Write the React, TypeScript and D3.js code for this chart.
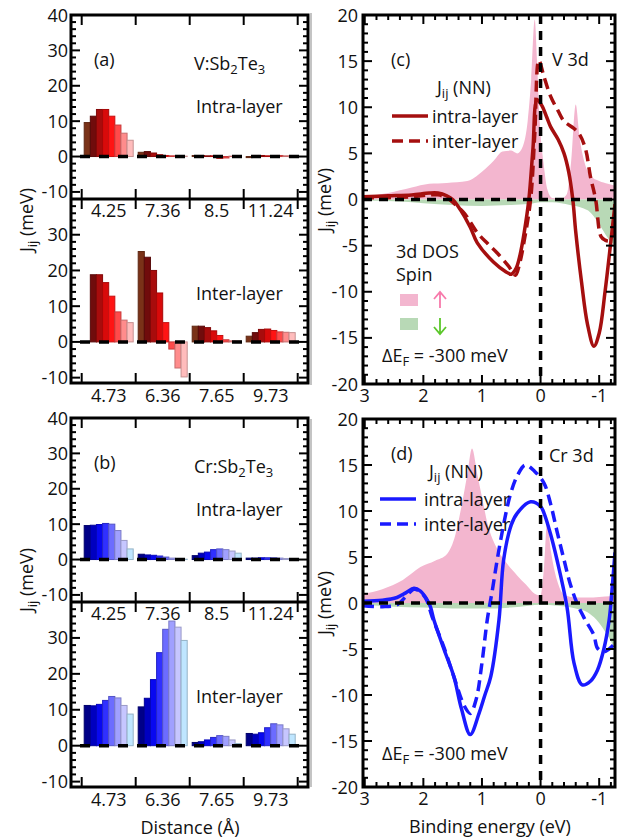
import React from 'react';
import * as d3 from 'd3';

const FONT = '"Open Sans", "DejaVu Sans", sans-serif';

// distance shells (Å)
const intraDist = ['4.25', '7.36', '8.5', '11.24'];
const interDist = ['4.73', '6.36', '7.65', '9.73'];

// J_ij (meV), 8 bars per shell
const vIntra = [
  [9.6, 11.4, 13.3, 13.3, 11.4, 8.9, 6.6, 4.6],
  [1.2, 1.4, 1.0, 0.5, 0.3, 0.2, 0.2, 0.1],
  [0.3, 0.3, 0.2, 0.2, -0.5, -0.4, 0.1, 0.1],
  [-0.3, 0.3, 0.3, 0.2, 0.2, 0.3, 0.2, -0.2],
];
const vInter = [
  [0, 18.8, 18.8, 16.6, 12.8, 8.4, 6.1, 5.4],
  [25.3, 23.7, 20.0, 13.7, 5.4, -2.0, -7.3, -9.8],
  [4.4, 4.4, 4.0, 3.1, 1.8, 0.6, 0.3, 0.3],
  [1.6, 2.6, 3.5, 3.6, 3.2, 2.8, 2.7, 2.6],
];
const crIntra = [
  [9.6, 9.7, 9.9, 10.2, 10.0, 8.2, 5.4, 3.0],
  [1.5, 1.3, 1.2, 1.0, 0.7, 0.4, 0.2, 0.1],
  [1.1, 1.8, 2.1, 2.8, 3.0, 2.8, 2.4, 1.8],
  [0.4, 0.4, 0.5, 0.5, 0.5, 0.4, 0.3, 0.2],
];
const crInter = [
  [11.2, 11.1, 11.5, 12.6, 13.7, 13.3, 11.2, 8.8],
  [10.8, 13.2, 18.4, 25.9, 32.4, 34.7, 33.0, 29.3],
  [0.9, 1.1, 1.6, 2.3, 2.8, 2.6, 1.6, 0.6],
  [3.4, 3.2, 3.6, 5.0, 6.1, 5.8, 4.7, 3.2],
];

const redShades = ['#7a3218', '#700c0c', '#a80c0c', '#d80a0a', '#ff1414', '#ff4a4a', '#ff8c8c', '#ffbcbc'];
const blueShades = ['#000088', '#0000c0', '#0808f0', '#3030ff', '#6c6cff', '#a0a0ff', '#c6c6ff', '#bfe6ff'];

// [binding energy (eV), value on J axis]
const vDosUp = [
  [3.03, 0.3], [2.6, 0.7], [2.2, 1.3], [1.9, 1.7], [1.6, 1.8], [1.25, 2.0], [1.0, 3.0], [0.8, 4.2],
  [0.65, 5.2], [0.5, 5.3], [0.4, 5.0], [0.3, 5.8], [0.22, 8.5], [0.16, 13], [0.1, 19.5], [0.06, 15],
  [0.02, 9], [-0.05, 4], [-0.12, 1.0], [-0.2, 0.15], [-0.35, 0.1], [-0.45, 0.6], [-0.52, 4],
  [-0.6, 10.3], [-0.66, 7], [-0.75, 4], [-0.85, 2.6], [-1.0, 2.0], [-1.15, 1.7], [-1.27, 1.5],
];
const vDosDown = [
  [3.03, -0.1], [2.5, -0.2], [2.0, -0.4], [1.5, -0.6], [1.0, -0.7], [0.5, -0.6], [0.2, -0.5],
  [0.0, -0.3], [-0.2, -0.3], [-0.5, -0.6], [-0.7, -0.9], [-0.85, -1.4], [-0.95, -2.2],
  [-1.05, -3.2], [-1.15, -4.2], [-1.27, -5.0],
];
const vJIntra = [
  [3.03, 0.3], [2.6, 0.4], [2.2, 0.5], [1.9, 0.7], [1.75, 0.7], [1.6, 0.4], [1.5, 0.0], [1.37, -1.1],
  [1.2, -3.0], [1.08, -4.7], [0.8, -6.8], [0.6, -7.8], [0.5, -8.1], [0.42, -7.5], [0.35, -6.0],
  [0.28, -3.6], [0.2, 0.0], [0.13, 5.5], [0.06, 10.8], [-0.02, 10.2], [-0.1, 9.0], [-0.17, 7.9],
  [-0.3, 6.5], [-0.4, 5.0], [-0.48, 3.0], [-0.55, 0.0], [-0.6, -3.5], [-0.7, -9], [-0.8, -13.5],
  [-0.91, -15.9], [-1.0, -14.5], [-1.1, -10], [-1.2, -4.5], [-1.27, -0.5],
];
const vJInter = [
  [3.03, 0.2], [2.6, 0.2], [2.2, 0.3], [1.9, 0.5], [1.75, 0.5], [1.6, 0.2], [1.5, -0.3], [1.3, -1.5],
  [1.08, -3.6], [0.9, -4.8], [0.74, -5.8], [0.55, -7.2], [0.43, -8.2], [0.36, -7.0], [0.28, -4.5],
  [0.17, 0.0], [0.1, 7], [0.03, 15.1], [-0.05, 13.5], [-0.17, 11.2], [-0.3, 9.6], [-0.4, 8.5],
  [-0.57, 7.7], [-0.67, 7.0], [-0.77, 5.4], [-0.85, 2.5], [-0.94, 0.0], [-1.03, -4.0],
  [-1.1, -4.4], [-1.17, -4.5], [-1.22, -4.0], [-1.27, -2.5],
];

const crDosUp = [
  [3.03, 1.0], [2.7, 1.5], [2.35, 2.5], [2.05, 3.9], [1.8, 4.6], [1.6, 5.3], [1.45, 7.5], [1.35, 10.5],
  [1.25, 14], [1.17, 16.8], [1.08, 14], [1.0, 11.5], [0.9, 8.5], [0.75, 6], [0.6, 4.5], [0.4, 3.0],
  [0.25, 2.0], [0.1, 1.0], [0.0, 0.8], [-0.06, 4], [-0.11, 8.7], [-0.18, 5.5], [-0.28, 2.5],
  [-0.4, 0.9], [-0.6, 0.6], [-0.9, 0.6], [-1.1, 0.7], [-1.27, 0.8],
];
const crDosDown = [
  [3.03, -0.2], [2.5, -0.4], [2.0, -0.5], [1.5, -0.6], [1.0, -0.6], [0.5, -0.5], [0.2, -0.3],
  [0.0, -0.2], [-0.3, -0.3], [-0.6, -0.6], [-0.8, -1.0], [-0.95, -1.8], [-1.05, -2.6],
  [-1.15, -3.6], [-1.27, -5.0],
];
const crJIntra = [
  [3.03, 0.2], [2.7, 0.3], [2.45, 0.6], [2.3, 1.1], [2.16, 1.6], [2.05, 1.3], [1.95, 0.5], [1.88, -0.4],
  [1.82, -1.85], [1.65, -5.0], [1.48, -8.0], [1.35, -11.5], [1.2, -14.3], [1.05, -12.0], [0.95, -10.0],
  [0.85, -8.0], [0.71, -1.85], [0.63, 4.7], [0.5, 8.5], [0.4, 9.75], [0.17, 11.0], [0.0, 10.5],
  [-0.06, 9.75], [-0.17, 7.5], [-0.28, 4.7], [-0.45, -0.4], [-0.57, -6.5], [-0.71, -8.9],
  [-0.85, -8.5], [-0.97, -7.3], [-1.08, -5.0], [-1.17, -1.85], [-1.22, 1.5], [-1.27, 5.5],
];
const crJInter = [
  [3.03, -0.3], [2.7, -0.4], [2.45, -0.2], [2.3, 0.7], [2.16, 1.5], [2.05, 1.2], [1.95, 0.4],
  [1.85, -1.5], [1.65, -4.8], [1.48, -8.0], [1.3, -11.2], [1.2, -12.0], [1.1, -10.5], [1.0, -6.5],
  [0.91, -1.85], [0.82, 1.5], [0.74, 4.7], [0.6, 9.5], [0.51, 11.9], [0.4, 13.8], [0.26, 15.0],
  [0.1, 14.3], [-0.06, 13.0], [-0.17, 10.8], [-0.28, 7.8], [-0.4, 4.7], [-0.5, 2.2], [-0.62, 0.0],
  [-0.75, -1.7], [-0.91, -3.5], [-0.97, -4.9], [-1.08, -5.3], [-1.17, -5.0], [-1.27, -4.4],
];

const pink = '#f3b6cf';
const green = '#b8d9b6';

// left panel frame
const FX0 = 71, FX1 = 308, GX0 = 81.7, GX1 = 297.7;
// right panel frame
const RX0 = 363, RX1 = 615;

function JLabel({ x, y }) {
  return (
    <text transform={`translate(${x},${y}) rotate(-90)`} textAnchor="middle">
      J<tspan dy={4} fontSize={13}>ij</tspan><tspan dy={-4}> (meV)</tspan>
    </text>
  );
}

function BarSub({ top, bottom, lo, vals, shades, labels, labelY, yLabels }) {
  const y = d3.scaleLinear().domain([lo, 40]).range([bottom, top]);
  const xg = d3.scaleBand().domain(d3.range(vals.length)).range([GX0, GX1]);
  const xb = d3.scaleBand().domain(d3.range(shades.length)).range([2.5, xg.bandwidth() - 2.5]);
  const ticks = d3.range(-10, 41, 2).filter(v => y(v) >= top - 0.5 && y(v) <= bottom);
  const bounds = d3.range(vals.length + 1).map(i => GX0 + i * xg.bandwidth());
  return (
    <g>
      {vals.map((grp, g) => grp.map((v, i) => {
        if (v === 0) return null;
        const c = shades[i];
        return (
          <rect key={`${g}-${i}`} x={xg(g) + xb(i)} width={xb.bandwidth()}
            y={y(Math.max(v, 0))} height={Math.abs(y(v) - y(0))}
            fill={c} stroke={d3.color(c).darker(0.7).formatHex()} strokeWidth={1} />
        );
      }))}
      <line x1={80} x2={FX1} y1={y(0)} y2={y(0)} stroke="#000" strokeWidth={3.5} strokeDasharray="10 9" />
      {ticks.map(v => {
        const len = v % 10 === 0 ? 9 : 5;
        return (
          <g key={v} stroke="#000" strokeWidth={2}>
            <line x1={FX0} x2={FX0 + len} y1={y(v)} y2={y(v)} />
            <line x1={FX1} x2={FX1 - len} y1={y(v)} y2={y(v)} />
          </g>
        );
      })}
      {bounds.map(b => (
        <g key={b} stroke="#000" strokeWidth={2}>
          <line x1={b} x2={b} y1={top} y2={top + 10} />
          <line x1={b} x2={b} y1={bottom} y2={bottom - 10} />
        </g>
      ))}
      {yLabels.map(v => <text key={v} x={68} y={y(v) + 6.5} textAnchor="end">{v}</text>)}
      {labels.map((l, g) => (
        <text key={l} x={xg(g) + xg.bandwidth() / 2} y={labelY} textAnchor="middle">{l}</text>
      ))}
    </g>
  );
}

function BarPanel({ top, mid, bottom, intra, inter, shades, tag, elem }) {
  const xg = d3.scaleBand().domain(d3.range(interDist.length)).range([GX0, GX1]);
  return (
    <g>
      <BarSub top={top} bottom={mid} lo={-12} vals={intra} shades={shades} labels={[]} labelY={0}
        yLabels={[-10, 0, 10, 20, 30, 40]} />
      <BarSub top={mid} bottom={bottom} lo={-11.5} vals={inter} shades={shades} labels={intraDist}
        labelY={mid + 18} yLabels={[-10, 0, 10, 20, 30]} />
      {interDist.map((l, g) => (
        <text key={l} x={xg(g) + xg.bandwidth() / 2} y={bottom + 19} textAnchor="middle">{l}</text>
      ))}
      <rect x={FX0} y={top} width={FX1 - FX0} height={bottom - top} fill="none" stroke="#000" strokeWidth={3} />
      <line x1={FX0} x2={FX1} y1={mid} y2={mid} stroke="#000" strokeWidth={3} />
      <text x={94} y={top + 51}>{tag}</text>
      <text x={194} y={top + 55}>{elem}:Sb<tspan dy={4} fontSize={13}>2</tspan><tspan dy={-4}>Te</tspan><tspan dy={4} fontSize={13}>3</tspan></text>
      <text x={196} y={top + 98}>Intra-layer</text>
      <text x={196} y={mid + 101}>Inter-layer</text>
    </g>
  );
}

function DosPanel({ top, bottom, up, down, intra, inter, color, id, children }) {
  const x = d3.scaleLinear().domain([3.03, -1.27]).range([RX0, RX1]);
  const y = d3.scaleLinear().domain([-20, 20]).range([bottom, top]);
  const area = d3.area().x(d => x(d[0])).y0(y(0)).y1(d => y(d[1])).curve(d3.curveMonotoneX);
  const line = d3.line().x(d => x(d[0])).y(d => y(d[1])).curve(d3.curveCatmullRom.alpha(0.5));
  const yt = d3.range(-20, 21, 1);
  const xt = d3.range(-6, 16).map(i => i * 0.2);
  return (
    <g>
      <clipPath id={id}>
        <rect x={RX0} y={top} width={RX1 - RX0} height={bottom - top} />
      </clipPath>
      <g clipPath={`url(#${id})`}>
        <path d={area(up)} fill={pink} />
        <path d={area(down)} fill={green} />
        <path d={line(intra)} fill="none" stroke={color} strokeWidth={3.5} />
        <path d={line(inter)} fill="none" stroke={color} strokeWidth={3.5} strokeDasharray="11 6" />
        <line x1={RX0} x2={RX1} y1={y(0)} y2={y(0)} stroke="#000" strokeWidth={3.5} strokeDasharray="9 7" />
        <line x1={x(0)} x2={x(0)} y1={top} y2={bottom} stroke="#000" strokeWidth={3.5} strokeDasharray="9 7" />
      </g>
      {yt.map(v => {
        const len = v % 5 === 0 ? 9 : 5;
        return (
          <g key={v} stroke="#000" strokeWidth={2}>
            <line x1={RX0} x2={RX0 + len} y1={y(v)} y2={y(v)} />
            <line x1={RX1} x2={RX1 - len} y1={y(v)} y2={y(v)} />
          </g>
        );
      })}
      {xt.map((v, i) => {
        const len = Math.abs(v - Math.round(v)) < 1e-6 ? 9 : 5;
        return (
          <g key={i} stroke="#000" strokeWidth={2}>
            <line x1={x(v)} x2={x(v)} y1={top} y2={top + len} />
            <line x1={x(v)} x2={x(v)} y1={bottom} y2={bottom - len} />
          </g>
        );
      })}
      {d3.range(-20, 21, 5).map(v => <text key={v} x={358} y={y(v) + 6.5} textAnchor="end">{v}</text>)}
      {[3, 2, 1, 0, -1].map(v => <text key={v} x={x(v)} y={bottom + 18} textAnchor="middle">{v}</text>)}
      <rect x={RX0} y={top} width={RX1 - RX0} height={bottom - top} fill="none" stroke="#000" strokeWidth={3} />
      {children}
    </g>
  );
}

function Legend({ x, y, color, textX }) {
  return (
    <g>
      <line x1={x} x2={x + 36} y1={y} y2={y} stroke={color} strokeWidth={3.5} />
      <text x={textX} y={y + 7}>intra-layer</text>
      <line x1={x} x2={x + 36} y1={y + 25} y2={y + 25} stroke={color} strokeWidth={3.5} strokeDasharray="11 6" />
      <text x={textX} y={y + 32}>inter-layer</text>
    </g>
  );
}

function DeltaEF({ x, y }) {
  return (
    <text x={x} y={y}>ΔE<tspan dy={4} fontSize={13}>F</tspan><tspan dy={-4}> = -300 meV</tspan></text>
  );
}

export default function App() {
  const red = '#a50f0f';
  const blue = '#1a1aff';
  return (
    <svg width={623} height={839} style={{ position: 'absolute', left: 0, top: 0 }}
      fontFamily={FONT} fontSize={18} fill="#111">
      <rect width={623} height={839} fill="#fff" />
      <line x1={311} x2={311} y1={13} y2={385} stroke="#b0b0b0" strokeWidth={1.5} />
      <line x1={311} x2={311} y1={419} y2={787} stroke="#b0b0b0" strokeWidth={1.5} />

      <BarPanel top={15} mid={199} bottom={383} intra={vIntra} inter={vInter} shades={redShades} tag="(a)" elem="V" />
      <BarPanel top={418} mid={602} bottom={787} intra={crIntra} inter={crInter} shades={blueShades} tag="(b)" elem="Cr" />
      <JLabel x={33} y={220} />
      <JLabel x={33} y={580} />
      <text x={190} y={834} textAnchor="middle">Distance (Å)</text>

      <DosPanel top={15} bottom={384} up={vDosUp} down={vDosDown} intra={vJIntra} inter={vJInter} color={red} id="clip-c">
        <text x={391} y={66}>(c)</text>
        <text x={552} y={66}>V 3d</text>
        <text x={437} y={94}>J<tspan dy={4} fontSize={13}>ij</tspan><tspan dy={-4}> (NN)</tspan></text>
        <Legend x={392} y={116} color={red} textX={432} />
        <text x={396} y={258}>3d DOS</text>
        <text x={396} y={281}>Spin</text>
        <rect x={400} y={294} width={18} height={12} fill={pink} />
        <rect x={400} y={318} width={18} height={12} fill={green} />
        <path d="M440,308V293M434,299L440,292L446,299" fill="none" stroke="#f77aab" strokeWidth={1.8} />
        <path d="M440,318V333M434,327L440,334L446,327" fill="none" stroke="#5bc72a" strokeWidth={1.8} />
        <DeltaEF x={382} y={362} />
      </DosPanel>

      <DosPanel top={419} bottom={787} up={crDosUp} down={crDosDown} intra={crJIntra} inter={crJInter} color={blue} id="clip-d">
        <text x={391} y={460}>(d)</text>
        <text x={549} y={462}>Cr 3d</text>
        <text x={429} y={478}>J<tspan dy={4} fontSize={13}>ij</tspan><tspan dy={-4}> (NN)</tspan></text>
        <Legend x={380} y={499} color={blue} textX={424} />
        <DeltaEF x={382} y={760} />
      </DosPanel>
      <JLabel x={331} y={200} />
      <JLabel x={331} y={603} />
      <text x={490} y={833} textAnchor="middle">Binding energy (eV)</text>
    </svg>
  );
}
